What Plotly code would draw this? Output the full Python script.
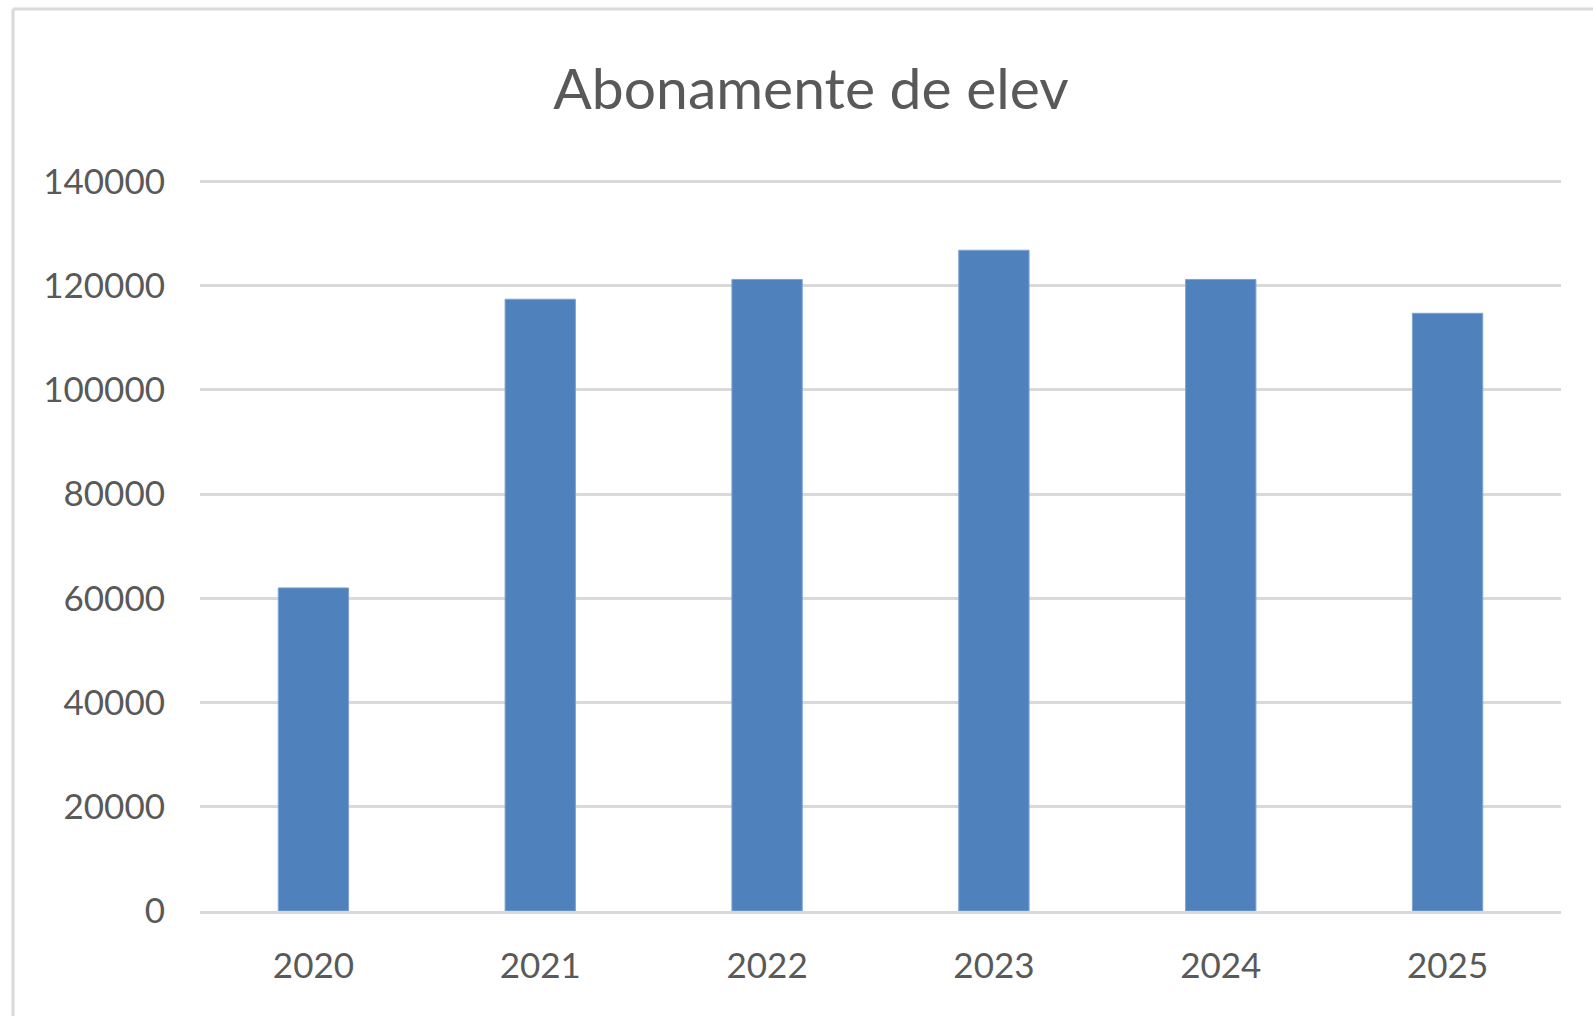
import plotly.graph_objects as go

# Student pass subscriptions per year
years = ["2020", "2021", "2022", "2023", "2024", "2025"]
subscriptions = [62000, 117400, 121200, 126800, 121200, 114700]
y_ticks = [0, 20000, 40000, 60000, 80000, 100000, 120000, 140000]

W, H = 1593, 1016
L, R, T, B = 200, 32, 180, 105
plot_w = W - L - R
plot_h = H - T - B

grid = "#D9D9D9"
text_col = "#595959"
font_family = "Lato, 'Open Sans', sans-serif"

fig = go.Figure(
    go.Bar(
        x=years,
        y=subscriptions,
        marker=dict(color="#4F81BD", line=dict(color="#7FA2D3", width=1)),
    )
)

fig.update_layout(
    width=W,
    height=H,
    margin=dict(l=L, r=R, t=T, b=B, pad=0),
    paper_bgcolor="white",
    plot_bgcolor="white",
    bargap=0.69,
    showlegend=False,
    title=dict(
        text="Abonamente de elev",
        font=dict(family=font_family, size=57, color=text_col),
        x=811 / W,
        xref="container",
        xanchor="center",
        y=1 - 89 / H,
        yref="container",
        yanchor="middle",
    ),
    font=dict(family=font_family, color=text_col),
)

fig.update_xaxes(
    showgrid=False,
    showline=True,
    linecolor=grid,
    linewidth=3,
    ticks="",
    ticklabelstandoff=22,
    tickfont=dict(size=35, color=text_col),
)

fig.update_yaxes(
    range=[0, 140000 * 1.002],
    tickvals=y_ticks,
    ticktext=[str(v) for v in y_ticks],
    showgrid=True,
    gridcolor=grid,
    gridwidth=3,
    zeroline=False,
    showline=False,
    ticks="",
    ticklabelstandoff=34,
    tickfont=dict(size=35, color=text_col),
)

# Light frame around the chart area (left and top edges)
bx = (13 - L) / plot_w
by_top = 1 + (T - 9) / plot_h
by_bot = -(B + 5) / plot_h
fig.add_shape(type="line", xref="paper", yref="paper",
              x0=bx, x1=bx, y0=by_bot, y1=by_top,
              line=dict(color=grid, width=3), layer="below")
fig.add_shape(type="line", xref="paper", yref="paper",
              x0=bx, x1=1 + (R + 5) / plot_w, y0=by_top, y1=by_top,
              line=dict(color=grid, width=3), layer="below")

fig.write_html("out.html")
